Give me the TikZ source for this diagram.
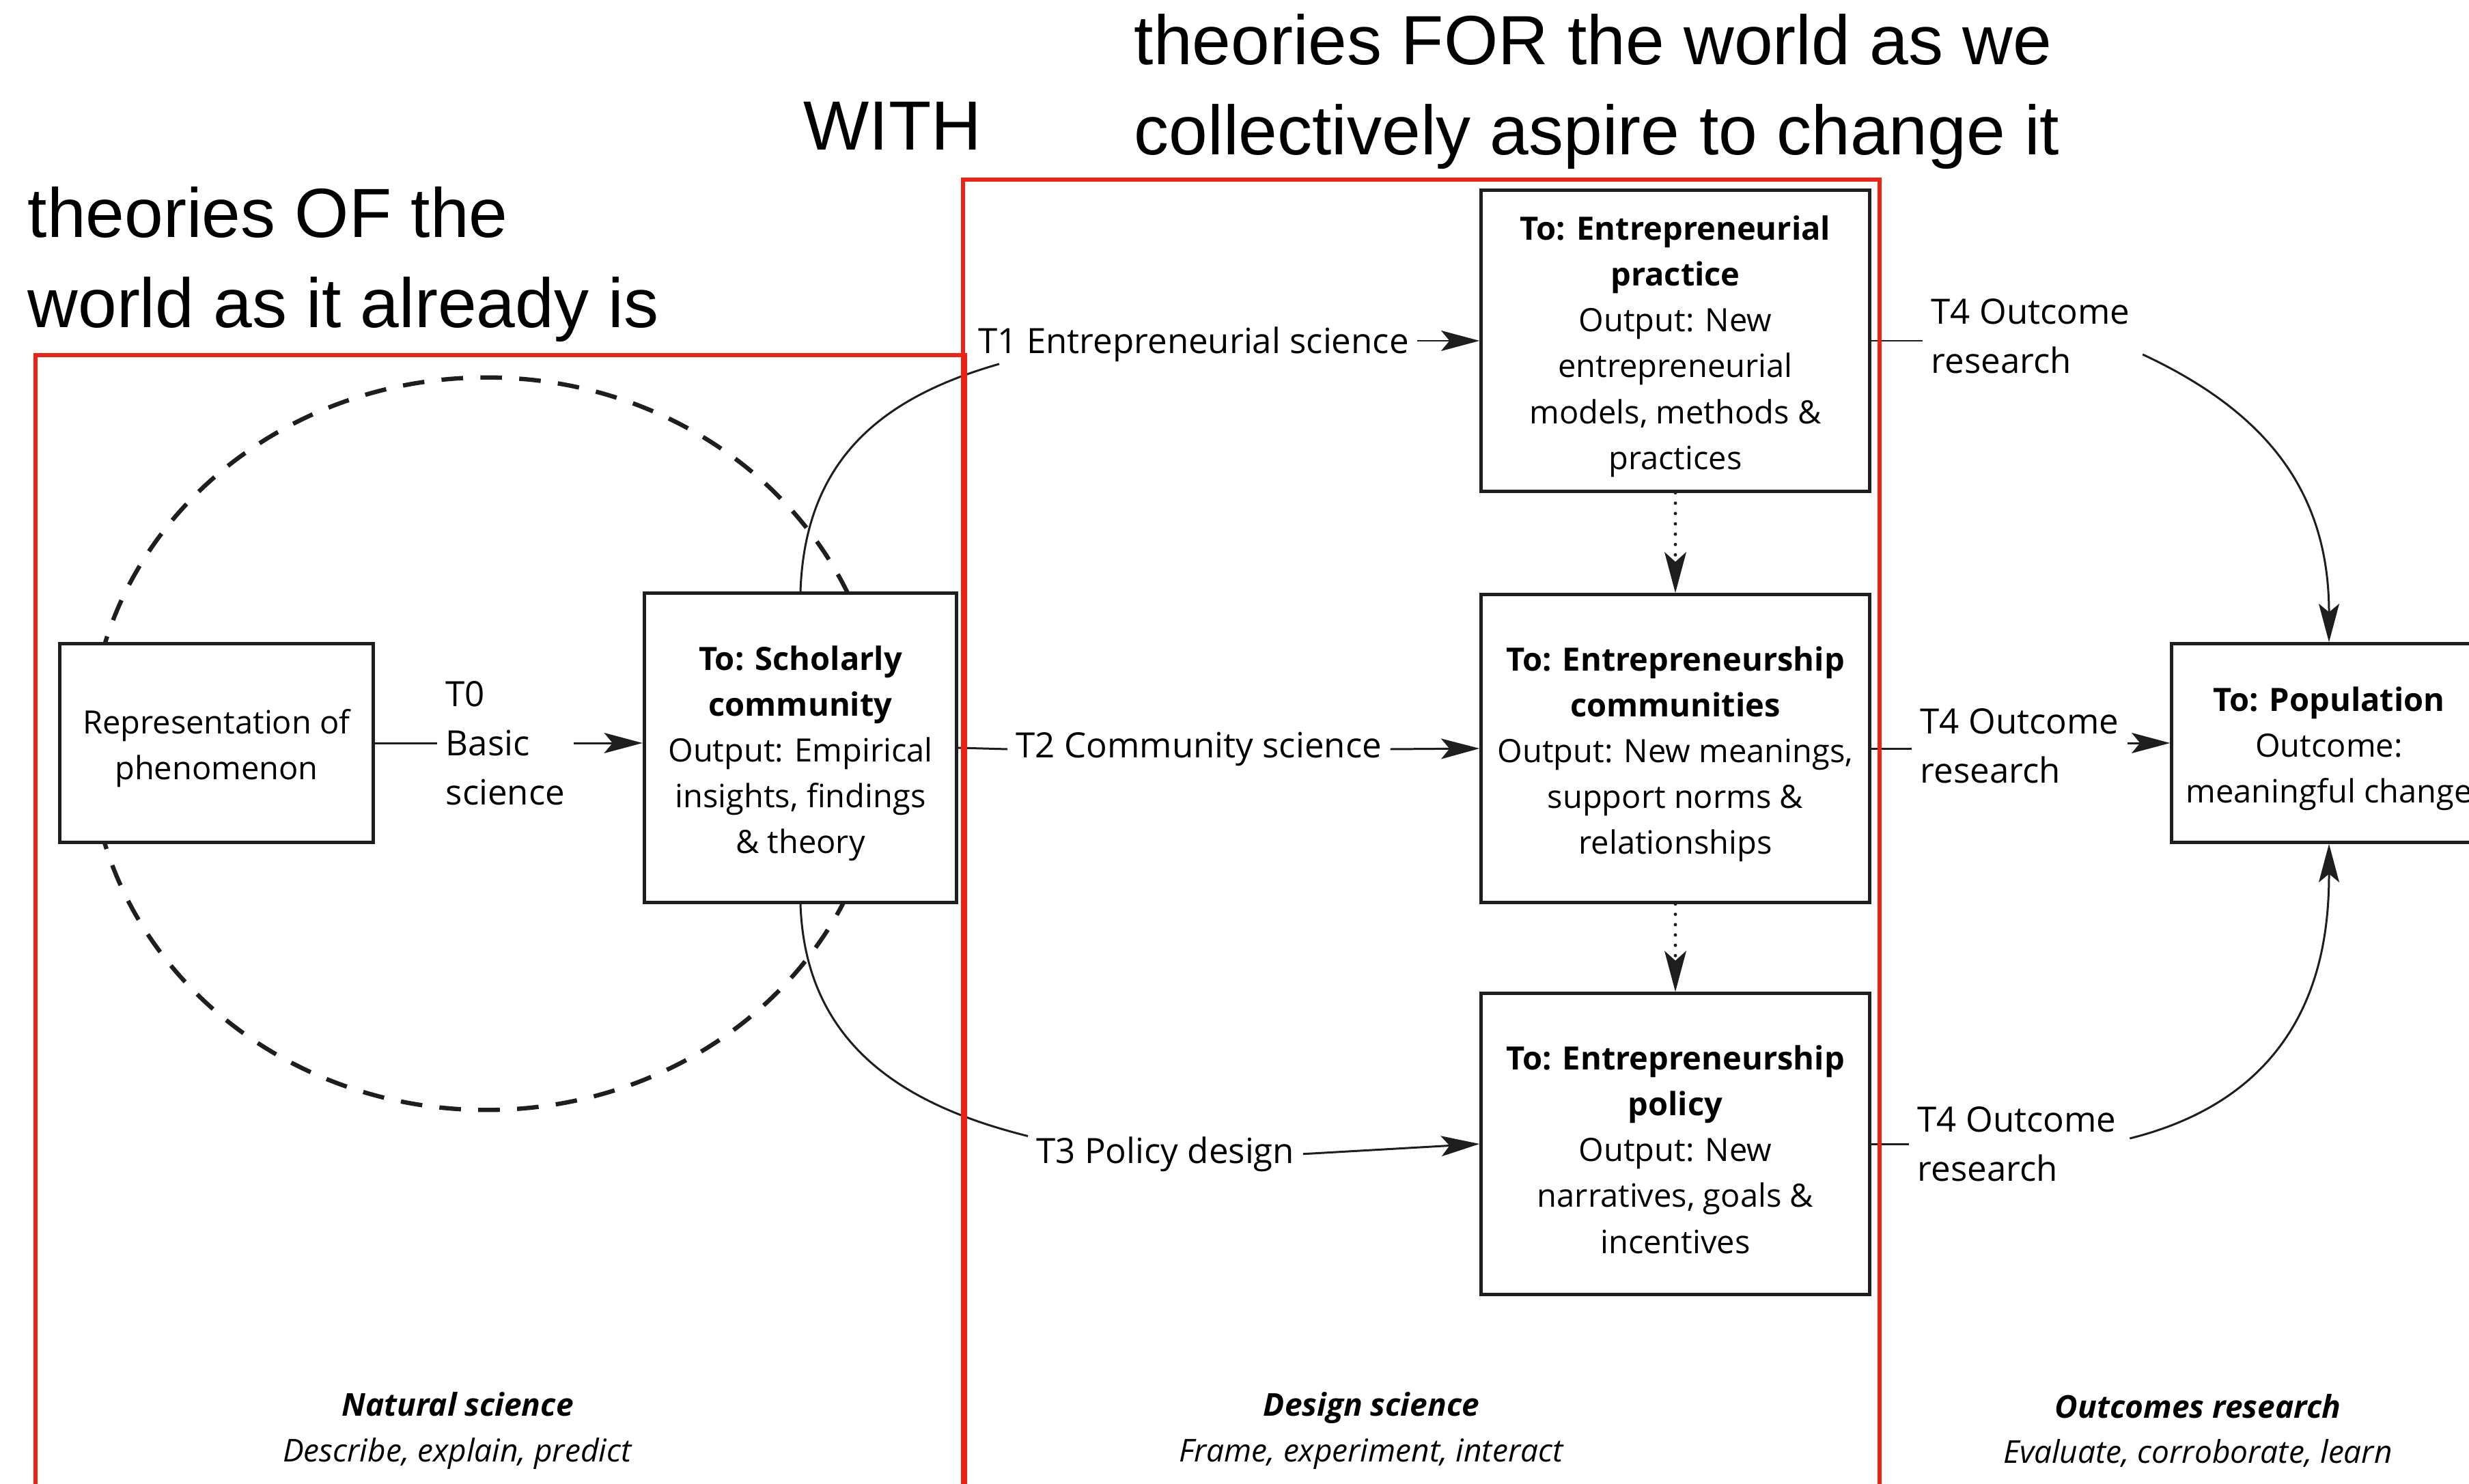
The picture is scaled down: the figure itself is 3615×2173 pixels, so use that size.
\documentclass[tikz,border=0pt]{standalone}
\usepackage{fontspec}
\setmainfont{Open Sans}
\newfontfamily\annfamily{Liberation Sans}
\usetikzlibrary{arrows.meta,calc}

\definecolor{framered}{RGB}{236,34,20}
\definecolor{ink}{RGB}{30,30,30}

\newcommand\bxfont{\fontsize{13.37}{19.1}\selectfont}
\newcommand\lbfont{\fontsize{14.5}{20.5}\selectfont}
\newcommand\anfont{\annfamily\fontsize{29}{37.56}\selectfont}
\newcommand\cpfont{\fontsize{13.1}{18.9}\selectfont}
% extra room above the first line of a box text
\newcommand\topstrut{\rule{0pt}{14.8pt}}

\begin{document}
\begin{tikzpicture}[x=0.01cm,y=0.01cm,
  box/.style={draw=ink, line width=1.45pt, fill=white, inner sep=0pt,
              align=center, font=\bxfont},
  lbl/.style={inner xsep=0.12cm, inner ysep=0pt, font=\lbfont},
  conn/.style={draw=ink, line width=0.85pt},
  arr/.style={-{Stealth[length=16pt,width=8.5pt,inset=3.5pt]}},
  darr/.style={draw=ink, line width=1.4pt, line cap=round,
               dash pattern=on 0pt off 4.3pt,
               -{Stealth[length=17pt,width=9pt,inset=4pt]}},
  cycle line/.style={draw=ink, line width=1.8pt,
                     dash pattern=on 9pt off 7.2pt},
  ann/.style={inner sep=0pt, font=\anfont},
  capt/.style={inner sep=0pt, align=center, font=\cpfont},
  redframe/.style={draw=framered, line width=1.45pt}]

\useasboundingbox (0,0) rectangle (3615,-2173);
\clip (0,0) rectangle (3615,-2173);

% basic-science cycle around the first two boxes
\draw[cycle line] (712,-1089) ellipse [x radius=5.8cm, y radius=5.36cm];

% boxes
\node[box, minimum width=4.58cm, minimum height=2.9cm] (rep) at (317,-1088)
  {\topstrut Representation of\\phenomenon};
\node[box, minimum width=4.57cm, minimum height=4.53cm] (schol) at (1172,-1095)
  {\topstrut\textbf{To: Scholarly}\\\textbf{community}\\Output: Empirical\\insights, findings\\\& theory};
\node[box, minimum width=5.68cm, minimum height=4.4cm] (prac) at (2453,-499)
  {\topstrut\textbf{To: Entrepreneurial}\\\textbf{practice}\\Output: New\\entrepreneurial\\models, methods \&\\practices};
\node[box, minimum width=5.68cm, minimum height=4.5cm] (comm) at (2453,-1096)
  {\topstrut\textbf{To: Entrepreneurship}\\\textbf{communities}\\Output: New meanings,\\support norms \&\\relationships};
\node[box, minimum width=5.68cm, minimum height=4.4cm] (pol) at (2453,-1675)
  {\topstrut\textbf{To: Entrepreneurship}\\\textbf{policy}\\Output: New\\narratives, goals \&\\incentives};
\node[box, minimum width=4.6cm, minimum height=2.9cm] (pop) at (3410,-1088)
  {\topstrut\textbf{To: Population}\\Outcome:\\meaningful change};

% connector labels
\node[lbl, align=left, anchor=west] (t0) at (640,-1088) {T0\\Basic\\science};
\node[lbl, anchor=base west] (t1) at (1420,-518) {T1 Entrepreneurial science};
\node[lbl, anchor=west] (t2) at (1475,-1097) {T2 Community science};
\node[lbl, anchor=base west] (t3) at (1505,-1703) {T3 Policy design};
\node[lbl, align=left, anchor=west] (t4a) at (2815,-492) {T4 Outcome\\research};
\node[lbl, align=left, anchor=west] (t4b) at (2799,-1092) {T4 Outcome\\research};
\node[lbl, align=left, anchor=west] (t4c) at (2795,-1675) {T4 Outcome\\research};

% T0
\draw[conn] (rep.east |- t0.west) -- (t0.west);
\draw[conn, arr] (t0.east) -- (t0.east -| schol.west);
% T2
\draw[conn] (schol.east) -- (t2.west);
\draw[conn, arr] (t2.east) -- (comm.west);
% T1
\draw[conn] (schol.north) to[out=88, in=196, out distance=2cm, in distance=1.7cm]
  ($(t1.south west)+(43,-2)$);
\draw[conn, arr] (t1.east |- prac.west) -- (prac.west);
% T3
\draw[conn] (schol.south) to[out=-88, in=166, out distance=2.1cm, in distance=1.8cm]
  (t3.north west);
\draw[conn, arr] (t3.east) -- (pol.west);
% dotted links between design-science boxes
\draw[darr] (prac.south) -- (comm.north);
\draw[darr] (comm.south) -- (pol.north);
% T4
\draw[conn] (prac.east) -- (prac.east -| t4a.west);
\draw[conn, arr] ($(t4a.east)+(6,-27)$) to[out=-25, in=90, out distance=2cm, in distance=2.2cm] (pop.north);
\draw[conn] (comm.east) -- (comm.east -| t4b.west);
\draw[conn, arr] (t4b.east |- pop.west) -- (pop.west);
\draw[conn] (pol.east) -- (pol.east -| t4c.west);
\draw[conn, arr] ($(t4c.east)+(7,8)$) to[out=14, in=-90, out distance=2.8cm, in distance=1.5cm] (pop.south);

% column captions
\node[capt] (nat) at (670,-2095) {\textbf{\textit{Natural science}}\\\textit{Describe, explain, predict}};
\node[capt] (dsn) at (2008,-2095) {\textbf{\textit{Design science}}\\\textit{Frame, experiment, interact}};
\node[capt] (outr) at (3218,-2095) {\textbf{\textit{Outcomes research}}\\\textit{Evaluate, corroborate, learn}};

% annotations
\node[ann, align=left, anchor=west] (forw) at (1660,-134)
  {theories FOR the world as we\\collectively aspire to change it};
\node[ann, anchor=base west] (with) at (1176,-220) {WITH};
\node[ann, align=left, anchor=west] (ofw) at (40,-387)
  {theories OF the\\world as it already is};

% red frames
\draw[redframe] (52,-520) rectangle (1413,-2260);
\draw[redframe] (1410,-263) rectangle (2752,-2260);
\end{tikzpicture}
\end{document}
